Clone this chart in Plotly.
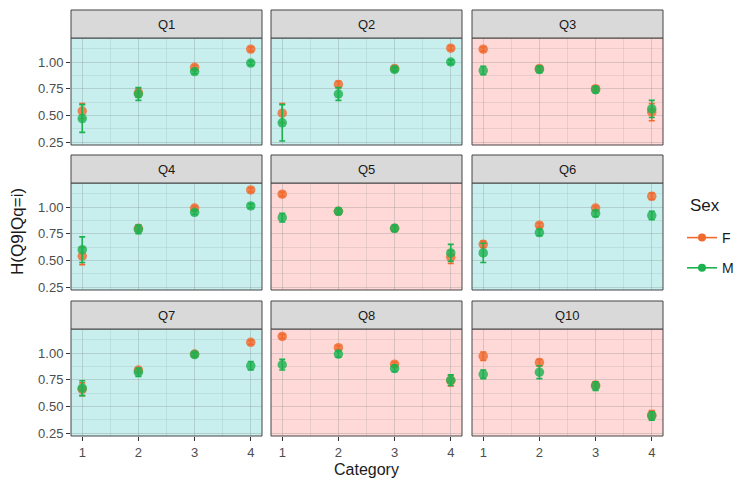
import plotly.graph_objects as go

# The page body adds an 8px margin, so the figure is sized and laid out in page pixels minus 8
OFF = 8
W, H = 741 - OFF, 478 - OFF

panels = ["Q1", "Q2", "Q3", "Q4", "Q5", "Q6", "Q7", "Q8", "Q10"]
trend = ["up", "up", "down", "up", "down", "up", "up", "down", "down"]
categories = [1, 2, 3, 4]

f_mean = [[0.54, 0.71, 0.95, 1.12], [0.52, 0.79, 0.94, 1.13], [1.12, 0.94, 0.75, 0.53],
          [0.54, 0.80, 0.99, 1.16], [1.12, 0.96, 0.80, 0.53], [0.65, 0.83, 0.99, 1.10],
          [0.66, 0.84, 0.99, 1.10], [1.155, 1.05, 0.895, 0.74], [0.97, 0.91, 0.70, 0.42]]
f_err = [[0.07, 0.04, 0.02, 0.02], [0.09, 0.03, 0.02, 0.02], [0.02, 0.02, 0.02, 0.08],
         [0.08, 0.03, 0.02, 0.02], [0.02, 0.02, 0.02, 0.06], [0.03, 0.02, 0.02, 0.03],
         [0.06, 0.02, 0.02, 0.02], [0.02, 0.02, 0.02, 0.05], [0.04, 0.03, 0.03, 0.04]]
m_mean = [[0.47, 0.70, 0.91, 0.99], [0.43, 0.70, 0.93, 1.00], [0.92, 0.93, 0.74, 0.56],
          [0.60, 0.79, 0.95, 1.01], [0.90, 0.96, 0.80, 0.57], [0.57, 0.76, 0.94, 0.92],
          [0.67, 0.82, 0.985, 0.88], [0.89, 0.99, 0.855, 0.745], [0.80, 0.82, 0.69, 0.41]]
m_err = [[0.13, 0.06, 0.02, 0.02], [0.17, 0.06, 0.02, 0.02], [0.04, 0.03, 0.03, 0.08],
         [0.12, 0.04, 0.02, 0.02], [0.04, 0.03, 0.03, 0.08], [0.09, 0.03, 0.03, 0.04],
         [0.07, 0.04, 0.02, 0.04], [0.05, 0.03, 0.03, 0.05], [0.04, 0.06, 0.04, 0.04]]

y_ticks = [0.25, 0.50, 0.75, 1.00]
y_ticklabels = ["0.25", "0.50", "0.75", "1.00"]

F_COL = "#F06A2E"
M_COL = "#1DB150"
BG = {"up": "#C9EEEE", "down": "#FFD8D8"}

col_px = [(71, 262), (271, 462), (472, 663)]
row_px = [(38, 145), (183, 290), (329, 436)]
strip_h = 28

def px_x(p):
    return (p - OFF) / W

def px_y(p):
    return 1 - (p - OFF) / H

FONT = "Liberation Sans, Arial, sans-serif"
fig = go.Figure()
shapes = []
annotations = []

for i, name in enumerate(panels):
    r, c = divmod(i, 3)
    ax = "" if i == 0 else str(i + 1)
    xa, ya = "x" + ax, "y" + ax
    x0, x1 = col_px[c]
    y0, y1 = row_px[r]
    bottom = r == 2
    left = c == 0
    fig.update_layout(**{
        "xaxis" + ax: dict(domain=[px_x(x0), px_x(x1)], range=[0.8, 4.2], anchor=ya,
                           tickvals=categories, ticktext=[str(v) for v in categories],
                           showticklabels=bottom, ticks="outside" if bottom else "",
                           ticklen=4, tickcolor="#333333", tickwidth=1,
                           tickfont=dict(size=13, color="#4D4D4D", family=FONT),
                           showgrid=True, gridcolor="rgba(90,110,110,0.22)", gridwidth=1,
                           minor=dict(tickvals=[1.5, 2.5, 3.5], showgrid=True,
                                      gridcolor="rgba(90,110,110,0.12)", gridwidth=1),
                           zeroline=False, showline=False, fixedrange=True, automargin=False),
        "yaxis" + ax: dict(domain=[px_y(y1), px_y(y0)], range=[0.222, 1.225], anchor=xa,
                           tickvals=y_ticks, ticktext=y_ticklabels,
                           showticklabels=left, ticks="outside" if left else "",
                           ticklen=4, tickcolor="#333333", tickwidth=1,
                           tickfont=dict(size=13, color="#4D4D4D", family=FONT),
                           showgrid=True, gridcolor="rgba(90,110,110,0.22)", gridwidth=1,
                           minor=dict(tickvals=[0.375, 0.625, 0.875, 1.125], showgrid=True,
                                      gridcolor="rgba(90,110,110,0.12)", gridwidth=1),
                           zeroline=False, showline=False, fixedrange=True, automargin=False),
    })
    shapes.append(dict(type="rect", xref=xa + " domain", yref=ya + " domain",
                       x0=0, x1=1, y0=0, y1=1, fillcolor=BG[trend[i]],
                       line=dict(width=0), layer="below"))
    shapes.append(dict(type="rect", xref="paper", yref="paper",
                       x0=px_x(x0), x1=px_x(x1), y0=px_y(y1), y1=px_y(y0),
                       line=dict(color="#444444", width=1), fillcolor="rgba(0,0,0,0)", layer="above"))
    shapes.append(dict(type="rect", xref="paper", yref="paper",
                       x0=px_x(x0), x1=px_x(x1), y0=px_y(y0), y1=px_y(y0 - strip_h),
                       line=dict(color="#444444", width=1), fillcolor="#D9D9D9", layer="above"))
    annotations.append(dict(text=name, xref="paper", yref="paper",
                            x=px_x((x0 + x1) / 2), y=px_y(y0 - strip_h / 2),
                            showarrow=False, xanchor="center", yanchor="middle",
                            font=dict(size=13, color="#1A1A1A", family=FONT)))

    for mean, err, col, sex in [(f_mean[i], f_err[i], F_COL, "F"), (m_mean[i], m_err[i], M_COL, "M")]:
        fig.add_trace(go.Scatter(
            x=categories, y=mean, mode="markers", xaxis=xa, yaxis=ya, showlegend=False,
            marker=dict(size=9.5, color=col, opacity=0.8, line=dict(width=0)),
            error_y=dict(type="data", array=err, symmetric=True, color=col,
                         thickness=1.6, width=3),
            name=sex, hoverinfo="skip"))

for sex, col in [("F", F_COL), ("M", M_COL)]:
    fig.add_trace(go.Scatter(x=[None], y=[None], mode="lines+markers", name=sex,
                             legendgroup=sex,
                             line=dict(color=col, width=1.6),
                             marker=dict(color=col, size=8), xaxis="x", yaxis="y"))

annotations.append(dict(text="Sex", xref="paper", yref="paper", x=px_x(688), y=px_y(205),
                        showarrow=False, xanchor="left", yanchor="middle",
                        font=dict(size=17, color="#1A1A1A", family=FONT)))
annotations.append(dict(text="H(Q9|Qq=i)", xref="paper", yref="paper", x=px_x(17), y=px_y(232),
                        textangle=-90, showarrow=False, xanchor="center", yanchor="middle",
                        font=dict(size=17, color="#1A1A1A", family=FONT)))
annotations.append(dict(text="Category", xref="paper", yref="paper", x=px_x(366), y=px_y(469),
                        showarrow=False, xanchor="center", yanchor="middle",
                        font=dict(size=16, color="#1A1A1A", family=FONT)))

fig.update_layout(
    width=W, height=H, margin=dict(l=0, r=0, t=0, b=0, autoexpand=False),
    paper_bgcolor="white", plot_bgcolor="white",
    shapes=shapes, annotations=annotations,
    showlegend=True,
    legend=dict(x=px_x(682), y=px_y(222), xanchor="left", yanchor="top",
                font=dict(size=14, color="#1A1A1A", family=FONT),
                traceorder="grouped", tracegroupgap=9,
                bgcolor="rgba(0,0,0,0)", itemwidth=30),
)

fig.write_html("out.html")
